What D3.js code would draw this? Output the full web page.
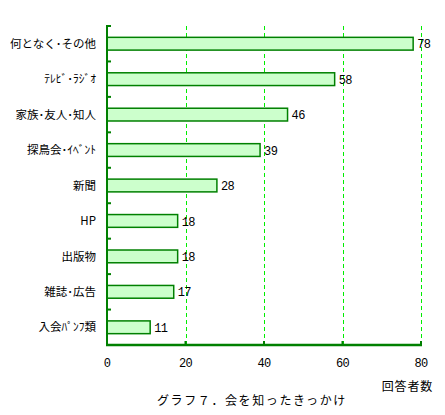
<!DOCTYPE html>
<html>
<head>
<meta charset="utf-8">
<script src="https://cdn.jsdelivr.net/npm/d3@7"></script>
<style>
  body { margin: 0; background: #fff; }
</style>
</head>
<body>
<div id="chart"></div>
<script>
const categories = ["何となく･その他", "ﾃﾚﾋﾞ･ﾗｼﾞｵ", "家族･友人･知人", "探鳥会･ｲﾍﾞﾝﾄ", "新聞", "HP", "出版物", "雑誌･広告", "入会ﾊﾟﾝﾌ類"];
const counts = [78, 58, 46, 39, 28, 18, 18, 17, 11];
const xTicks = [0, 20, 40, 60, 80];

const margin = { top: 26, right: 24, bottom: 70, left: 107 };
const width = 445 - margin.left - margin.right;
const height = 415 - margin.top - margin.bottom;

const jpFont = "'Noto Sans CJK JP', sans-serif";
const numFont = "'Liberation Mono', monospace";

const svg = d3.select("#chart").append("svg")
    .attr("width", 445)
    .attr("height", 415);

const g = svg.append("g").attr("transform", `translate(${margin.left},${margin.top})`);

const x = d3.scaleLinear().domain([0, 80]).range([0, 314]);
const y = d3.scaleBand().domain(categories).range([0, 319]).paddingInner(0.64).paddingOuter(0.32);

// dashed gridlines
g.selectAll(".grid")
    .data(xTicks.slice(1))
    .enter()
    .append("line")
    .attr("x1", d => Math.round(x(d)) + 0.5)
    .attr("x2", d => Math.round(x(d)) + 0.5)
    .attr("y1", 0)
    .attr("y2", 319)
    .attr("stroke", "#00ee00")
    .attr("stroke-width", 1)
    .attr("shape-rendering", "crispEdges")
    .attr("stroke-dasharray", "4,3");

// bars
g.selectAll(".bar")
    .data(counts)
    .enter()
    .append("rect")
    .attr("x", 0)
    .attr("y", (d, i) => y(categories[i]))
    .attr("width", d => x(d))
    .attr("height", y.bandwidth())
    .attr("fill", "#ccffcc")
    .attr("stroke", "#008000")
    .attr("stroke-width", 1.5);

// value labels
g.selectAll(".val")
    .data(counts)
    .enter()
    .append("text")
    .attr("x", d => x(d) + 4)
    .attr("y", (d, i) => y(categories[i]) + y.bandwidth() / 2)
    .attr("dy", "0.38em")
    .style("font-family", numFont)
    .style("font-size", "12px")
    .style("letter-spacing", "-0.6px")
    .text(d => d);

// category labels
g.selectAll(".cat")
    .data(categories)
    .enter()
    .append("text")
    .attr("x", -11)
    .attr("y", d => y(d) + y.bandwidth() / 2)
    .attr("dy", "0.36em")
    .attr("text-anchor", "end")
    .style("font-family", jpFont)
    .style("font-size", "11.5px")
    .text(d => d);

// left axis with ticks between categories
const step = y.step();
const catTicks = d3.range(categories.length).map(i => i * step);
g.selectAll(".ytick")
    .data(catTicks)
    .enter()
    .append("line")
    .attr("x1", 0)
    .attr("x2", 4)
    .attr("y1", d => d)
    .attr("y2", d => d)
    .attr("stroke", "#008000")
    .attr("stroke-width", 2);

g.append("line")
    .attr("x1", 0).attr("x2", 0)
    .attr("y1", -1).attr("y2", 320)
    .attr("stroke", "#008000")
    .attr("stroke-width", 2);

// bottom axis
g.append("line")
    .attr("x1", -1).attr("x2", x(80) + 1)
    .attr("y1", 319).attr("y2", 319)
    .attr("stroke", "#008000")
    .attr("stroke-width", 2.5);

g.selectAll(".xtick")
    .data(xTicks)
    .enter()
    .append("line")
    .attr("x1", d => x(d))
    .attr("x2", d => x(d))
    .attr("y1", 315)
    .attr("y2", 319)
    .attr("stroke", "#008000")
    .attr("stroke-width", 2);

g.selectAll(".xlabel")
    .data(xTicks)
    .enter()
    .append("text")
    .attr("x", d => x(d))
    .attr("y", 341)
    .attr("text-anchor", "middle")
    .style("font-family", numFont)
    .style("font-size", "12px")
    .style("letter-spacing", "-0.6px")
    .text(d => d);

// axis title
svg.append("text")
    .attr("x", 433)
    .attr("y", 391)
    .attr("text-anchor", "end")
    .style("font-family", jpFont)
    .style("font-size", "12px")
    .style("letter-spacing", "0.8px")
    .text("回答者数");

// caption
svg.append("text")
    .attr("x", 157)
    .attr("y", 405)
    .style("font-family", jpFont)
    .style("font-size", "12px")
    .style("letter-spacing", "1.6px")
    .text("グラフ７．会を知ったきっかけ");
</script>
</body>
</html>
